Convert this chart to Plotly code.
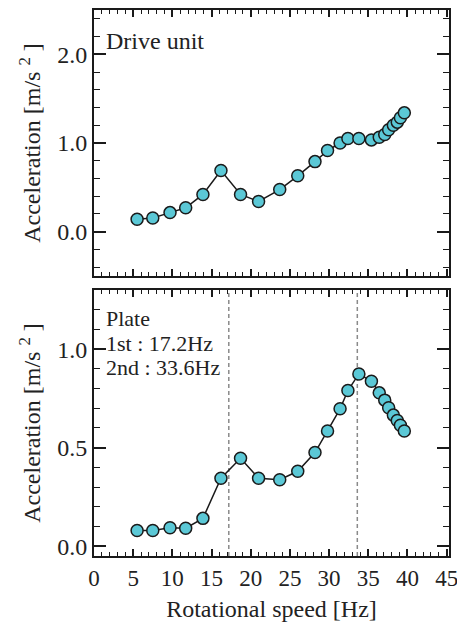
import plotly.graph_objects as go
from plotly.subplots import make_subplots

speed = [5.5, 7.5, 9.7, 11.7, 13.9, 16.2, 18.7, 21.0, 23.7, 26.0, 28.2, 29.8,
         31.4, 32.4, 33.8, 35.4, 36.4, 37.1, 37.6, 38.2, 38.7, 39.1, 39.6]
drive_unit = [0.14, 0.155, 0.215, 0.27, 0.42, 0.69, 0.42, 0.34, 0.475, 0.63, 0.79, 0.915,
              1.0, 1.05, 1.05, 1.035, 1.065, 1.095, 1.15, 1.2, 1.235, 1.285, 1.34]
plate = [0.079, 0.079, 0.093, 0.091, 0.141, 0.345, 0.446, 0.345, 0.337, 0.38, 0.475, 0.584,
         0.697, 0.79, 0.874, 0.837, 0.778, 0.741, 0.702, 0.665, 0.638, 0.614, 0.584]
resonances = [17.2, 33.6]
top_label = "Drive unit"
bottom_lines = ["Plate", "1st : 17.2Hz", "2nd : 33.6Hz"]

FONT = "'Liberation Serif'"
INK = "#222222"
fill = "#5BC8D6"

fig = make_subplots(rows=2, cols=1, vertical_spacing=14 / 546)

for row, vals in ((1, drive_unit), (2, plate)):
    fig.add_trace(go.Scatter(
        x=speed, y=vals, mode="lines+markers",
        line=dict(color="#1a1a1a", width=1.5),
        marker=dict(size=12, color=fill, line=dict(color="#1a1a1a", width=1.5)),
        showlegend=False), row=row, col=1)

for f in resonances:
    fig.add_shape(type="line", x0=f, x1=f, y0=0, y1=1, xref="x2", yref="y2 domain",
                  line=dict(color="#8a8a8a", width=1.5, dash="4px,3px"), layer="below")

xcommon = dict(range=[0, 45.3], dtick=5, tick0=0, ticks="inside", ticklen=7, tickwidth=1.5,
               tickcolor="#1a1a1a", showline=True, linewidth=2, linecolor="#1a1a1a",
               mirror="allticks", showgrid=False, zeroline=False, automargin=False,
               minor=dict(dtick=1, ticks="inside", ticklen=4, tickwidth=1, tickcolor="#1a1a1a"),
               tickfont=dict(family=FONT, size=23, color=INK))
ycommon = dict(ticks="inside", ticklen=12, tickwidth=1.5, tickcolor="#1a1a1a",
               showline=True, linewidth=2, linecolor="#1a1a1a", mirror="allticks",
               showgrid=False, zeroline=False, tickformat=".1f", automargin=False,
               tickfont=dict(family=FONT, size=24, color=INK),
               title=dict(text="Acceleration [m/s <sup>2</sup> ]",
                          font=dict(family=FONT, size=24, color=INK), standoff=10))

fig.update_xaxes(**xcommon, showticklabels=False, row=1, col=1)
fig.update_xaxes(**xcommon, row=2, col=1,
                 title=dict(text="Rotational speed [Hz]", font=dict(family=FONT, size=24, color=INK),
                            standoff=11))
fig.update_yaxes(**ycommon, range=[-0.5, 2.5], dtick=1, tick0=0,
                 minor=dict(dtick=0.2, ticks="inside", ticklen=6, tickwidth=1, tickcolor="#1a1a1a"),
                 row=1, col=1)
fig.update_yaxes(**ycommon, range=[-0.05, 1.3], dtick=0.5, tick0=0,
                 minor=dict(dtick=0.1, ticks="inside", ticklen=6, tickwidth=1, tickcolor="#1a1a1a"),
                 row=2, col=1)

fig.add_annotation(text=top_label, xref="x domain", yref="y domain", x=0.03, y=0.885,
                   xanchor="left", yanchor="middle", showarrow=False, align="left",
                   borderpad=0, font=dict(family=FONT, size=24, color=INK))
for txt, yy in zip(bottom_lines, [0.893, 0.800, 0.707]):
    fig.add_annotation(text=txt, xref="x2 domain", yref="y2 domain", x=0.03, y=yy,
                       xanchor="left", yanchor="middle", showarrow=False, align="left",
                       borderpad=0, font=dict(family=FONT, size=22, color=INK))

fig.update_layout(width=465, height=625, margin=dict(l=86, r=24, t=2, b=77),
                  plot_bgcolor="white", paper_bgcolor="white")

fig.write_html("out.html")
